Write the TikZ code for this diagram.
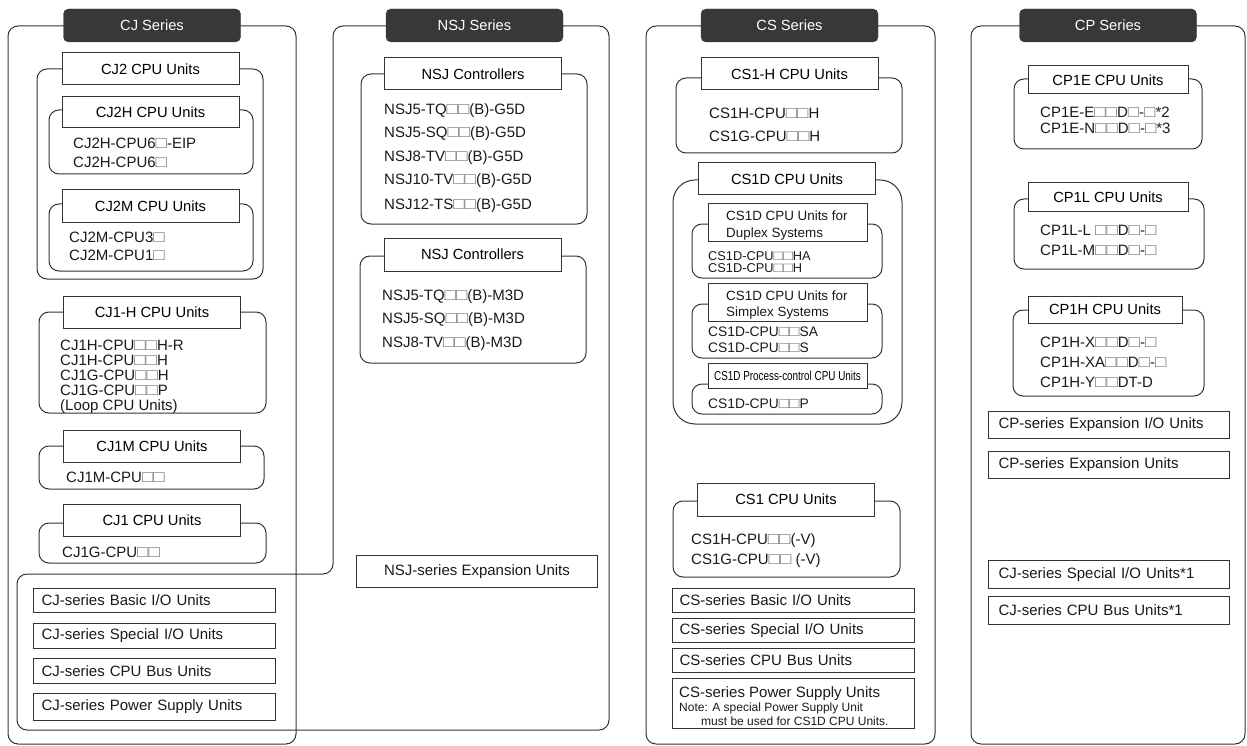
\documentclass[tikz,border=0pt]{standalone}
\usepackage{fontspec}
\setmainfont{Liberation Sans}
\usepackage{graphicx}
\newcommand\osq{{\color{black!55}\scalebox{1.25}[1.08]{□}}}
\newcommand\fbody{\fontsize{15}{15}\selectfont}
\newcommand\fttl{\fontsize{14.7}{17}\selectfont}
\newcommand\fsm{\fontsize{13.4}{15}\selectfont}
\tikzset{
  frame/.style={draw=black!80, line width=1pt, rounded corners=10pt},
  series/.style={fill=black!78, draw=black!78, rounded corners=5pt, text=white, font=\fttl, minimum width=177pt, minimum height=33pt, inner sep=0pt},
  ttl/.style={draw=black!80, line width=1pt, fill=white, font=\fttl, inner sep=0pt, minimum width=177pt, minimum height=32pt},
  txt/.style={anchor=base west, inner sep=0pt, font=\fbody, text=black!90},
  ubox/.style={draw=black!80, line width=1pt, anchor=north west, inner sep=0pt, font=\fbody, text=black!90}
}
\begin{document}
\begin{tikzpicture}[x=1pt,y=-1pt]
\useasboundingbox (0,0) rectangle (1247,746);
% ================= CJ series =================
\draw[frame] (8,26) rectangle (296,744);
\node[series] (cjs) at (152,25.5) {CJ Series};
% CJ2 group
\draw[frame] (37,69) rectangle (263,279);
\node[ttl] (cj2) at (150.5,69) {CJ2 CPU Units};
\draw[frame] (49,110) rectangle (253,174);
\node[ttl, minimum height=31pt] (cj2h) at (150.5,112.5) {CJ2H CPU Units};
\node[txt] (cj2h1) at (73,149) {CJ2H-CPU6\osq-EIP};
\node[txt] (cj2h2) at (73,168) {CJ2H-CPU6\osq};
\draw[frame] (49,204) rectangle (253,271);
\node[ttl] (cj2m) at (150.5,206) {CJ2M CPU Units};
\node[txt] (cj2m1) at (69,242) {CJ2M-CPU3\osq};
\node[txt] (cj2m2) at (69,260) {CJ2M-CPU1\osq};
% CJ1-H
\draw[frame] (39,312) rectangle (266,413);
\node[ttl] (cj1h) at (152,312) {CJ1-H CPU Units};
\node[txt] (cj1h1) at (60,350.5) {CJ1H-CPU\osq\osq H-R};
\node[txt] (cj1h2) at (60,365.5) {CJ1H-CPU\osq\osq H};
\node[txt] (cj1h3) at (60,380.5) {CJ1G-CPU\osq\osq H};
\node[txt] (cj1h4) at (60,395.5) {CJ1G-CPU\osq\osq P};
\node[txt] (cj1h5) at (60,410) {(Loop CPU Units)};
% CJ1M
\draw[frame] (39,446) rectangle (264,489);
\node[ttl] (cj1m) at (152,446) {CJ1M CPU Units};
\node[txt] (cj1m1) at (66,482) {CJ1M-CPU\osq\osq};
% CJ1
\draw[frame] (39,523) rectangle (266,563);
\node[ttl] (cj1) at (152,520) {CJ1 CPU Units};
\node[txt] (cj11) at (62,557) {CJ1G-CPU\osq\osq};
% ================= NSJ series (shared outline with CJ units) =================
\draw[frame] (17,730) -- (17,574) -- (333,574) -- (333,26) -- (609,26) -- (609,730) -- cycle;
\node[series] (nsjs) at (474.5,25.5) {NSJ Series};
\draw[frame] (361,74) rectangle (587,224);
\node[ttl] (nsj1) at (473,74) {NSJ Controllers};
\node[txt] (nsj11) at (384,115) {NSJ5-TQ\osq\osq(B)-G5D};
\node[txt] (nsj12) at (384,138) {NSJ5-SQ\osq\osq(B)-G5D};
\node[txt] (nsj13) at (384,162) {NSJ8-TV\osq\osq(B)-G5D};
\node[txt] (nsj14) at (384,185) {NSJ10-TV\osq\osq(B)-G5D};
\node[txt] (nsj15) at (384,209) {NSJ12-TS\osq\osq(B)-G5D};
\draw[frame] (360,256) rectangle (586,363);
\node[ttl, minimum height=33pt] (nsj2) at (472.5,254.5) {NSJ Controllers};
\node[txt] (nsj21) at (382,300) {NSJ5-TQ\osq\osq(B)-M3D};
\node[txt] (nsj22) at (382,323) {NSJ5-SQ\osq\osq(B)-M3D};
\node[txt] (nsj23) at (382,347) {NSJ8-TV\osq\osq(B)-M3D};
\node[ubox, minimum width=241pt, minimum height=32pt] (nsjx) at (356,555) {NSJ-series Expansion Units};
% CJ-series units
\node[ubox, minimum width=242pt, minimum height=24pt, align=left, text width=226pt, inner xsep=8pt] (cjb1) at (33,588) {CJ-series Basic I/O Units};
\node[ubox, minimum width=242pt, minimum height=25pt, align=left, text width=226pt, inner xsep=8pt] (cjb2) at (33,623) {CJ-series Special I/O Units};
\node[ubox, minimum width=242pt, minimum height=25pt, align=left, text width=226pt, inner xsep=8pt] (cjb3) at (33,658) {CJ-series CPU Bus Units};
\node[ubox, minimum width=242pt, minimum height=27pt, align=left, text width=226pt, inner xsep=8pt] (cjb4) at (33,693) {CJ-series Power Supply Units};
% ================= CS series =================
\draw[frame] (646,26) rectangle (935,744);
\node[series] (css) at (789.5,25.5) {CS Series};
\draw[frame] (676,78) rectangle (902,153);
\node[ttl] (cs1h) at (789.5,74) {CS1-H CPU Units};
\node[txt] (cs1h1) at (709,119) {CS1H-CPU\osq\osq H};
\node[txt] (cs1h2) at (709,142) {CS1G-CPU\osq\osq H};
% CS1D
\draw[frame, rounded corners=22pt] (673,180) rectangle (902,424);
\node[ttl] (cs1d) at (787,179) {CS1D CPU Units};
\draw[frame] (692,224) rectangle (882,278);
\node[ttl, minimum width=159pt, minimum height=37pt] (dup) at (787.5,222.5) {};
\node[txt, font=\fsm] (dupa) at (726,221) {CS1D CPU Units for};
\node[txt, font=\fsm] (dupb) at (726,237) {Duplex Systems};
\node[txt, font=\fontsize{12.8}{13}\selectfont] (dup1) at (708,260) {CS1D-CPU\osq\osq HA};
\node[txt, font=\fontsize{12.8}{13}\selectfont] (dup2) at (708,272.5) {CS1D-CPU\osq\osq H};
\draw[frame] (692,304) rectangle (882,358);
\node[ttl, minimum width=159pt, minimum height=38pt] (smp) at (787.5,302) {};
\node[txt, font=\fsm] (smpa) at (726,300) {CS1D CPU Units for};
\node[txt, font=\fsm] (smpb) at (726,316) {Simplex Systems};
\node[txt, font=\fontsize{13.8}{14}\selectfont] (smp1) at (708,336) {CS1D-CPU\osq\osq SA};
\node[txt, font=\fontsize{13.8}{14}\selectfont] (smp2) at (708,352) {CS1D-CPU\osq\osq S};
\draw[frame] (692,384) rectangle (882,414);
\node[ttl, minimum width=159pt, minimum height=25pt] (prc) at (787.5,375.5) {\scalebox{0.76}[1]{\fontsize{13}{13}\selectfont CS1D Process-control CPU Units}};
\node[txt, font=\fontsize{13.8}{14}\selectfont] (prc1) at (708,408) {CS1D-CPU\osq\osq P};
% CS1
\draw[frame] (673,501) rectangle (900,577);
\node[ttl, minimum height=33pt] (cs1) at (786,499.5) {CS1 CPU Units};
\node[txt] (cs11) at (691,544) {CS1H-CPU\osq\osq(-V)};
\node[txt] (cs12) at (691,564) {CS1G-CPU\osq\osq\ (-V)};
% CS-series units
\node[ubox, minimum width=242pt, minimum height=24pt, align=left, text width=228pt, inner xsep=7pt] (csb1) at (672,588) {CS-series Basic I/O Units};
\node[ubox, minimum width=242pt, minimum height=24pt, align=left, text width=228pt, inner xsep=7pt] (csb2) at (672,618) {CS-series Special I/O Units};
\node[ubox, minimum width=242pt, minimum height=24pt, align=left, text width=228pt, inner xsep=7pt] (csb3) at (672,648) {CS-series CPU Bus Units};
\node[ubox, minimum width=242pt, minimum height=50pt] (csb4) at (672,678) {};
\node[txt] (csb4a) at (679,697) {CS-series Power Supply Units};
\node[txt, font=\fontsize{12}{12}\selectfont] (csb4b) at (679,711) {Note: A special Power Supply Unit};
\node[txt, font=\fontsize{12}{12}\selectfont] (csb4c) at (701,725) {must be used for CS1D CPU Units.};
% ================= CP series =================
\draw[frame] (971,26) rectangle (1245,744);
\node[series] (cps) at (1108,25.5) {CP Series};
\draw[frame] (1014,79) rectangle (1202,149);
\node[ttl, minimum width=160pt, minimum height=28pt] (cp1e) at (1108,80) {CP1E CPU Units};
\node[txt] (cp1e1) at (1040,118) {CP1E-E\osq\osq D\osq-\osq*2};
\node[txt] (cp1e2) at (1040,134) {CP1E-N\osq\osq D\osq-\osq*3};
\draw[frame] (1014,199) rectangle (1204,269);
\node[ttl, minimum width=160pt, minimum height=29pt] (cp1l) at (1108,197.5) {CP1L CPU Units};
\node[txt] (cp1l1) at (1040,235) {CP1L-L \osq\osq D\osq-\osq};
\node[txt] (cp1l2) at (1040,255) {CP1L-M\osq\osq D\osq-\osq};
\draw[frame] (1013,310) rectangle (1204,396);
\node[ttl, minimum width=154pt, minimum height=27pt] (cp1h) at (1105,309.5) {CP1H CPU Units};
\node[txt] (cp1h1) at (1040,347) {CP1H-X\osq\osq D\osq-\osq};
\node[txt] (cp1h2) at (1040,367) {CP1H-XA\osq\osq D\osq-\osq};
\node[txt] (cp1h3) at (1040,387) {CP1H-Y\osq\osq DT-D};
\node[ubox, minimum width=241pt, minimum height=27pt, align=left, text width=231pt, inner xsep=5pt] (cpb1) at (988,411) {\hspace{5pt}CP-series Expansion I/O Units};
\node[ubox, minimum width=241pt, minimum height=27pt, align=left, text width=231pt, inner xsep=5pt] (cpb2) at (988,451) {\hspace{5pt}CP-series Expansion Units};
\node[ubox, minimum width=241pt, minimum height=28pt, align=left, text width=231pt, inner xsep=5pt] (cpb3) at (988,560) {\hspace{5pt}CJ-series Special I/O Units*1};
\node[ubox, minimum width=241pt, minimum height=28pt, align=left, text width=231pt, inner xsep=5pt] (cpb4) at (988,596) {\hspace{5pt}CJ-series CPU Bus Units*1};
\end{tikzpicture}
\end{document}
